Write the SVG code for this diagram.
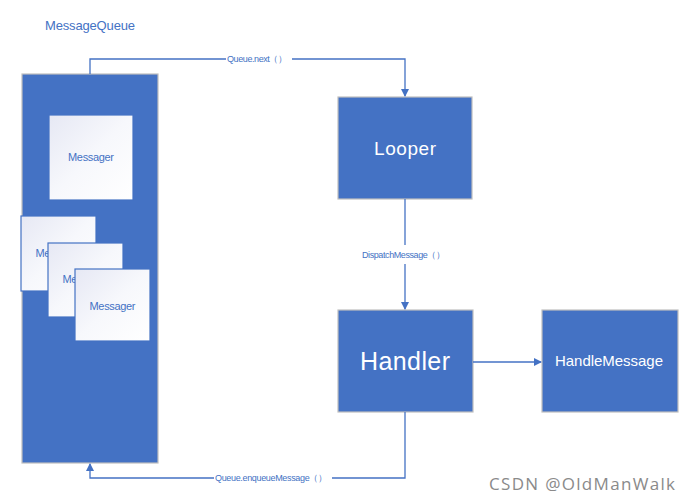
<svg xmlns="http://www.w3.org/2000/svg" width="692" height="502" viewBox="0 0 692 502">
<style>
.box{fill:#4472c4;stroke:#bfbfbf;stroke-width:1.2}
.msg{fill:url(#g);stroke:#4472c4;stroke-width:1.2}
.t{font-family:"Liberation Sans","Open Sans",sans-serif}
.w{fill:#ffffff}
.b{fill:#4472c4}
.c{fill:none;stroke:#4472c4;stroke-width:1.3}
.lbl{font-family:"Liberation Sans",sans-serif;font-size:9px;fill:#4472c4}
</style>
<defs>
<linearGradient id="g" x1="0" y1="0" x2="1" y2="1">
<stop offset="0" stop-color="#e6e8f4"/>
<stop offset="0.5" stop-color="#f7f8fc"/>
<stop offset="1" stop-color="#ffffff"/>
</linearGradient>
<marker id="ah" markerWidth="8" markerHeight="8" refX="7" refY="4" orient="auto" markerUnits="userSpaceOnUse">
<path d="M0,0 L8,4 L0,8 Z" fill="#4472c4"/>
</marker>
</defs>
<rect width="692" height="502" fill="#ffffff"/>
<text class="t b" x="45" y="30" font-size="13" textLength="90">MessageQueue</text>
<g id="messagequeue">
<rect class="box" x="22" y="74" width="136" height="389"/>
</g>
<g id="messager1">
<rect class="msg" x="49" y="115" width="84" height="85"/>
<text class="t b" x="91" y="161" font-size="11" text-anchor="middle" textLength="46">Messager</text>
</g>
<g id="messager2">
<rect class="msg" x="21" y="216" width="75" height="75"/>
<text class="t b" x="58.5" y="257" font-size="11" text-anchor="middle" textLength="46">Messager</text>
</g>
<g id="messager3">
<rect class="msg" x="48" y="243" width="75" height="74"/>
<text class="t b" x="85.5" y="283" font-size="11" text-anchor="middle" textLength="46">Messager</text>
</g>
<g id="messager4">
<rect class="msg" x="75" y="269" width="75" height="72"/>
<text class="t b" x="112.5" y="310" font-size="11" text-anchor="middle" textLength="46">Messager</text>
</g>
<g id="looper">
<rect class="box" x="338" y="97" width="134" height="102"/>
<text class="t w" x="405" y="155" font-size="19" text-anchor="middle" textLength="62">Looper</text>
</g>
<g id="handler">
<rect class="box" x="338" y="310" width="135" height="102"/>
<text class="t w" x="405" y="370" font-size="25" text-anchor="middle" textLength="90">Handler</text>
</g>
<g id="handlemessage">
<rect class="box" x="542" y="310" width="136" height="102"/>
<text class="t w" x="609" y="366" font-size="15" text-anchor="middle" textLength="108">HandleMessage</text>
</g>
<g id="connectors">
<path class="c" d="M90,74 V59 H226"/>
<path class="c" d="M292,59 H405 V96" marker-end="url(#ah)"/>
<text class="lbl" x="227" y="62" textLength="60">Queue.next（）</text>
<path class="c" d="M405,199 V245"/>
<path class="c" d="M405,264 V309" marker-end="url(#ah)"/>
<text class="lbl" x="362" y="258" textLength="83">DispatchMessage（）</text>
<path class="c" d="M473,362 H541" marker-end="url(#ah)"/>
<path class="c" d="M405,412 V478 H332"/>
<path class="c" d="M214,478 H90 V464" marker-end="url(#ah)"/>
<text class="lbl" x="215" y="481" textLength="112">Queue.enqueueMessage（）</text>
</g>
<text x="489" y="490" font-family="Open Sans,Liberation Sans,sans-serif" font-size="17" fill="#8a8a8a" textLength="186">CSDN @OldManWalk</text>
</svg>
